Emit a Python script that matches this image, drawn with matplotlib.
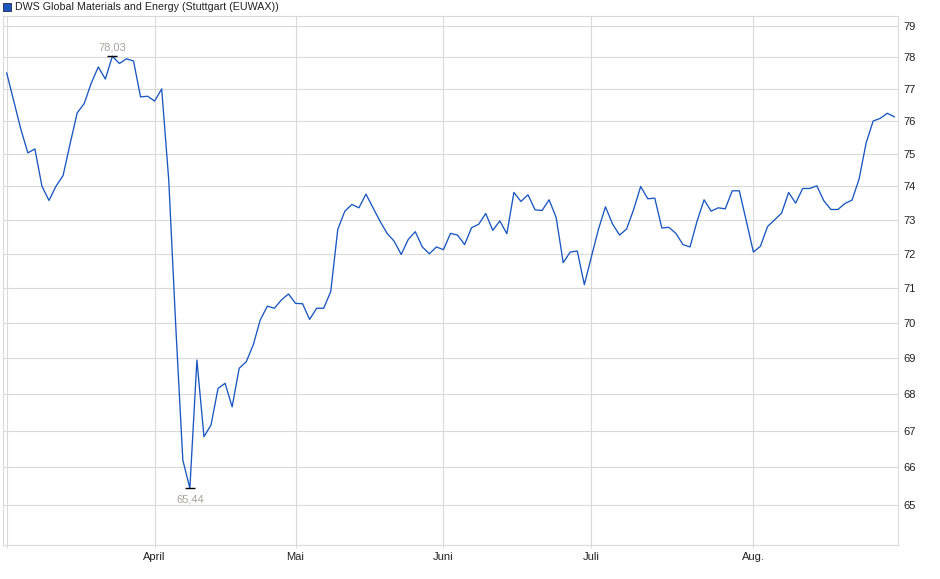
import matplotlib
matplotlib.use("Agg")
import matplotlib.pyplot as plt
from matplotlib.patches import Rectangle
from matplotlib.ticker import FixedLocator, FixedFormatter, NullLocator

# ---- data (trading-day index, EUWAX prices) ----
prices = [
    77.50, 76.62, 75.75, 75.02, 75.14, 74.01, 73.58, 74.01, 74.33, 75.30,
    76.25, 76.54, 77.18, 77.69, 77.31, 78.03, 77.80, 77.95, 77.88, 76.75,
    76.77, 76.62, 77.00, 74.20, 69.90, 66.20, 65.44, 68.95, 66.83, 67.15,
    68.16, 68.30, 67.65, 68.72, 68.90, 69.38, 70.09, 70.48, 70.42, 70.66,
    70.83, 70.56, 70.55, 70.10, 70.42, 70.42, 70.90, 72.72, 73.26, 73.46,
    73.36, 73.77, 73.36, 72.96, 72.60, 72.37, 71.98, 72.42, 72.65, 72.20,
    72.00, 72.20, 72.12, 72.60, 72.55, 72.27, 72.77, 72.87, 73.19, 72.69,
    72.97, 72.59, 73.82, 73.55, 73.75, 73.30, 73.28, 73.60, 73.07, 71.74,
    72.05, 72.08, 71.10, 71.91, 72.72, 73.39, 72.88, 72.55, 72.73, 73.31,
    74.00, 73.63, 73.65, 72.76, 72.78, 72.60, 72.27, 72.20, 72.96, 73.60,
    73.26, 73.36, 73.33, 73.87, 73.87, 72.96, 72.05, 72.22, 72.80, 73.00,
    73.20, 73.82, 73.50, 73.94, 73.94, 74.02, 73.57, 73.31, 73.31, 73.49,
    73.59, 74.22, 75.32, 76.00, 76.08, 76.24, 76.13,
]
month_idx = [0, 21, 41, 62, 83, 106]
month_labels = ["", "April", "Mai", "Juni", "Juli", "Aug."]
y_ticks = [65, 66, 67, 68, 69, 70, 71, 72, 73, 74, 75, 76, 77, 78, 79]
series_name = "DWS Global Materials and Energy (Stuttgart (EUWAX))"
max_label = "78,03"
min_label = "65,44"

plt.rcParams['font.family'] = ['Liberation Sans', 'DejaVu Sans']

W, H = 940, 579
fig = plt.figure(figsize=(W / 100, H / 100), dpi=100)
L, R, T, B = 2.7, 898.3, 16.0, 545.3
ax = fig.add_axes([L / W, 1 - B / H, (R - L) / W, (B - T) / H])

grid_c = "#dadada"
line_c = "#1a56c0"

x = list(range(len(prices)))
ax.plot(x, prices, color=line_c, lw=0.95, zorder=3)

ax.set_yscale("log")
ax.set_ylim(63.94, 79.32)
ax.set_xlim(-0.57, 126.57)

ax.yaxis.set_major_locator(FixedLocator(y_ticks))
ax.yaxis.set_major_formatter(FixedFormatter([str(v) for v in y_ticks]))
ax.yaxis.set_minor_locator(NullLocator())
ax.yaxis.tick_right()
ax.tick_params(axis="y", which="both", length=0, pad=3.5, labelsize=8, labelcolor="#222222")

ax.set_xticks(month_idx)
ax.set_xticklabels(month_labels)
ax.xaxis.set_minor_locator(NullLocator())
ax.tick_params(axis="x", length=2.5, width=0.7, color=grid_c, pad=2.5, labelsize=8, labelcolor="#222222")

ax.grid(True, color=grid_c, lw=0.8, zorder=0)
for s in ax.spines.values():
    s.set_color(grid_c)
    s.set_linewidth(0.8)

# max / min markers
imax = prices.index(max(prices))
imin = prices.index(min(prices))
ax.plot([imax], [prices[imax]], marker="_", color="black", ms=7, mew=1.0, zorder=4)
ax.plot([imin], [prices[imin]], marker="_", color="black", ms=7, mew=1.0, zorder=4)
ann_c = "#a8a39b"
ax.annotate(max_label, (imax, prices[imax]), xytext=(0, 2.5), textcoords="offset points",
            ha="center", va="bottom", fontsize=8, color=ann_c)
ax.annotate(min_label, (imin, prices[imin]), xytext=(0, -4.2), textcoords="offset points",
            ha="center", va="top", fontsize=8, color=ann_c)

# legend
fig.patches.append(Rectangle((3.3 / W, 1 - 10.5 / H), 7.5 / W, 7.5 / H,
                             transform=fig.transFigure, facecolor=line_c,
                             edgecolor="#222244", lw=0.6))
fig.text(15 / W, 1 - 6.8 / H, series_name, ha="left", va="center",
         fontsize=7.7, color="#222222")

fig.savefig("out.png", dpi=100)
